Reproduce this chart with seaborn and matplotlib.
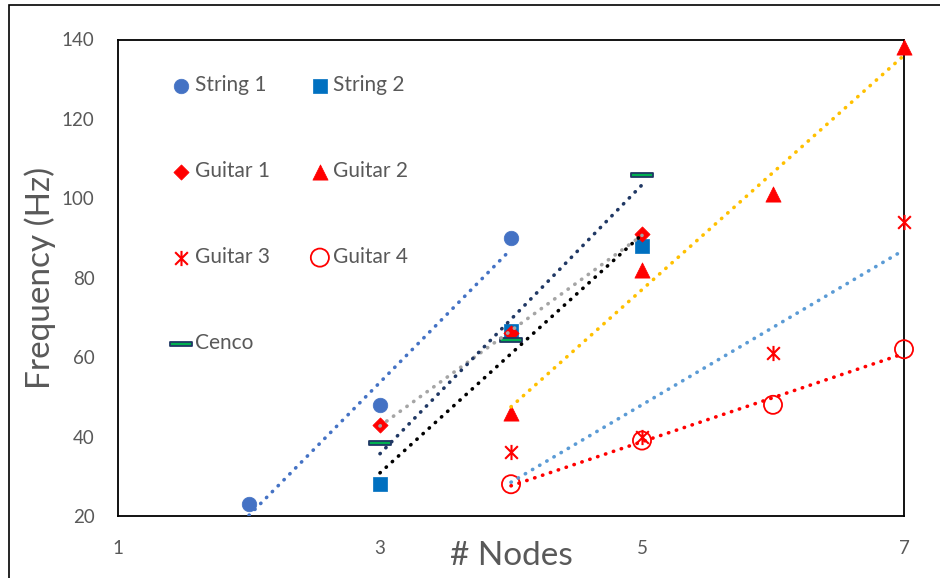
import numpy as np
import pandas as pd
import matplotlib
matplotlib.use("Agg")
import matplotlib.pyplot as plt
import seaborn as sns
from matplotlib.path import Path
from matplotlib.patches import Rectangle

# ---------------- data ----------------
series_names = ["String 1", "String 2", "Guitar 1", "Guitar 2", "Guitar 3", "Guitar 4", "Cenco"]
legend_order = ["String 1", "Guitar 1", "Guitar 3", "Cenco", "String 2", "Guitar 2", "Guitar 4"]

nodes_string1 = [2, 3, 4]
freq_string1 = [23, 48, 90]
nodes_string2 = [3, 4, 5]
freq_string2 = [28, 66.6, 88]
nodes_guitar1 = [3, 4, 5]
freq_guitar1 = [43, 66, 91]
nodes_guitar2 = [4, 5, 6, 7]
freq_guitar2 = [46, 82, 101, 138]
nodes_guitar3 = [4, 5, 6, 7]
freq_guitar3 = [36, 40, 61, 94]
nodes_guitar4 = [4, 5, 6, 7]
freq_guitar4 = [28, 39, 48, 62]
nodes_cenco = [3, 4, 5]
freq_cenco = [38.3, 64.3, 106]

x_ticks = [1, 2, 3, 4, 5, 6, 7]
x_tick_labels = ["1", "", "3", "", "5", "", "7"]
y_ticks = [20, 30, 40, 50, 60, 70, 80, 90, 100, 110, 120, 130, 140]
y_tick_labels = ["20", "", "40", "", "60", "", "80", "", "100", "", "120", "", "140"]

# ---------------- style ----------------
sns.set_theme(style="white")
plt.rcParams["font.family"] = ["Lato", "DejaVu Sans"]
TXT = "#595959"

star_path = Path(
    [(-1, -1), (1, 1), (-1, 1), (1, -1), (0, -1.2), (0, 1.2)],
    [Path.MOVETO, Path.LINETO, Path.MOVETO, Path.LINETO, Path.MOVETO, Path.LINETO],
)
dash_path = Path(
    [(-1, -0.22), (1, -0.22), (1, 0.22), (-1, 0.22), (-1, -0.22)],
    [Path.MOVETO, Path.LINETO, Path.LINETO, Path.LINETO, Path.CLOSEPOLY],
)

series = [
    # name, x, y, marker, size, face, edge, lw, trend colour
    ("String 1", nodes_string1, freq_string1, "o", 110, "#4472C4", "#4472C4", 0.5, "#4472C4"),
    ("String 2", nodes_string2, freq_string2, "s", 100, "#0070C0", "#0070C0", 0.5, "#000000"),
    ("Guitar 1", nodes_guitar1, freq_guitar1, "D", 60, "#FF0000", "#FF0000", 0.5, "#A5A5A5"),
    ("Guitar 2", nodes_guitar2, freq_guitar2, "^", 120, "#FF0000", "#FF0000", 0.5, "#FFC000"),
    ("Guitar 3", nodes_guitar3, freq_guitar3, star_path, 120, "#FF0000", "#FF0000", 1.5, "#5B9BD5"),
    ("Guitar 4", nodes_guitar4, freq_guitar4, "o", 170, "none", "#FF0000", 1.3, "#FF0000"),
    ("Cenco", nodes_cenco, freq_cenco, dash_path, 260, "#00B050", "#203864", 1.3, "#203864"),
]

fig = plt.figure(figsize=(9.4, 5.78), dpi=100)
ax = fig.add_axes([118 / 940, 1 - 516 / 578, (904 - 118) / 940, (516 - 39.5) / 578])

handles = {}
for name, xs, ys, mk, s, fc, ec, lw, tc in series:
    df = pd.DataFrame({"nodes": xs, "freq": ys})
    sns.regplot(data=df, x="nodes", y="freq", ax=ax, scatter=False, ci=None,
                color=tc, truncate=True,
                line_kws=dict(linestyle=(0, (0.1, 2.2)), dash_capstyle="round",
                              linewidth=2.6, zorder=4, label="_nolegend_"))
    sns.scatterplot(data=df, x="nodes", y="freq", ax=ax, marker=mk, s=s,
                    facecolor=fc, edgecolor=ec, linewidth=lw, zorder=3,
                    legend=False, clip_on=False)
    handles[name] = ax.collections[-1]

ax.set_xlim(1, 7)
ax.set_ylim(20, 140)
ax.set_xticks(x_ticks)
ax.set_xticklabels(x_tick_labels)
ax.set_yticks(y_ticks)
ax.set_yticklabels(y_tick_labels)
ax.tick_params(axis="both", direction="in", length=5, width=1.2, color="black",
               labelcolor=TXT, labelsize=13.5, pad=17)
for sp in ax.spines.values():
    sp.set_color("black")
    sp.set_linewidth(1.3)
    sp.set_zorder(2)

ax.set_xlabel("# Nodes", fontsize=24, color=TXT)
ax.set_ylabel("Frequency (Hz)", fontsize=24, color=TXT)
ax.xaxis.label.set_va("center")
ax.xaxis.set_label_coords(0.5, -0.083)
ax.yaxis.label.set_va("center")
ax.yaxis.set_label_coords(-(118 - 40) / 786, 0.5)

leg = ax.legend(handles=[handles[n] for n in legend_order], labels=legend_order, ncol=2,
                frameon=False, loc="upper left",
                bbox_to_anchor=((173 - 118) / 786, (516 - 75) / 476.5),
                borderpad=0, borderaxespad=0, handlelength=0.8, handletextpad=0.25,
                columnspacing=2.0, labelspacing=3.17, fontsize=15, scatterpoints=1)
for t in leg.get_texts():
    t.set_color(TXT)

fig.patches.append(Rectangle((9 / 940, -0.1), 1.2, 1.1 - 5 / 578, transform=fig.transFigure,
                             fill=False, edgecolor="black", linewidth=1.2, figure=fig))

fig.savefig("out.png", dpi=100)
